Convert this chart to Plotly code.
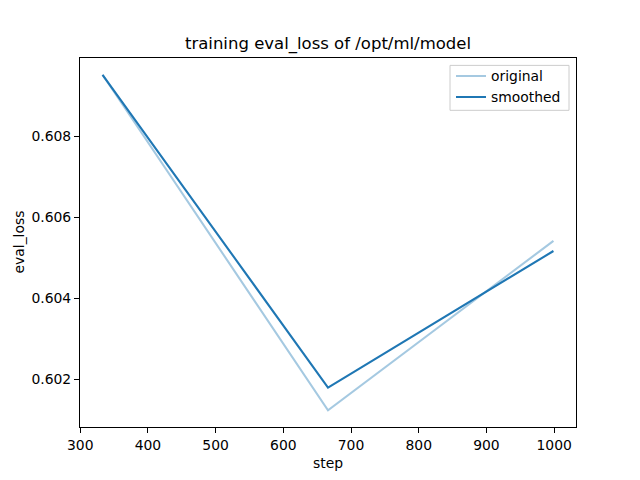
import plotly.graph_objects as go

steps = [333, 666, 999]
original = [0.60952, 0.60124, 0.60542]
smoothed = [0.60952, 0.60180, 0.60517]

x_ticks = [300, 400, 500, 600, 700, 800, 900, 1000]
y_ticks = [0.602, 0.604, 0.606, 0.608]

base = "#1f77b4"
light = "rgba(31,119,180,0.4)"

W, H = 640, 480
L, R, T, B = 80, 64, 57.6, 52.8
PW, PH = W - L - R, H - T - B


def px(x):
    return (x - L) / PW


def py(y):
    return 1 - (y - T) / PH


fig = go.Figure()
fig.add_trace(go.Scatter(x=steps, y=original, mode="lines", name="original",
                         line=dict(color=light, width=2.1)))
fig.add_trace(go.Scatter(x=steps, y=smoothed, mode="lines", name="smoothed",
                         line=dict(color=base, width=2.1)))

span = max(original + smoothed) - min(original + smoothed)
ymin = min(original + smoothed) - 0.05 * span
ymax = max(original + smoothed) + 0.05 * span
xspan = steps[-1] - steps[0]

axis_common = dict(showgrid=False, zeroline=False, showline=True, linecolor="black",
                   linewidth=1, mirror=True, ticks="outside", ticklen=5, tickwidth=1,
                   tickcolor="black", tickfont=dict(size=13.9, color="black"),
                   automargin=False)

fig.update_layout(
    width=W, height=H,
    paper_bgcolor="white", plot_bgcolor="white",
    font=dict(family="DejaVu Sans", color="black"),
    margin=dict(l=L, r=R, t=T, b=B),
    title=dict(text="training eval_loss of /opt/ml/model", x=0.5125, xanchor="center",
               y=1 - 43 / H, yanchor="middle", font=dict(size=16.5),
               automargin=False),
    xaxis=dict(range=[steps[0] - 0.05 * xspan, steps[-1] + 0.05 * xspan],
               tickvals=x_ticks, ticktext=[str(v) for v in x_ticks],
               title=dict(text="step", font=dict(size=13.9), standoff=6), **axis_common),
    yaxis=dict(range=[ymin, ymax], tickvals=y_ticks,
               ticktext=[f"{v:.3f}" for v in y_ticks], **axis_common),
    annotations=[dict(text="eval_loss", xref="paper", yref="paper",
                      x=px(18), y=0.5, xanchor="center", yanchor="middle",
                      textangle=-90, showarrow=False, font=dict(size=13.9))],
    legend=dict(x=px(451), y=py(60), xanchor="left", yanchor="top",
                bgcolor="rgba(0,0,0,0)", borderwidth=0,
                font=dict(size=13.9), tracegroupgap=0, itemwidth=30),
    showlegend=True,
)

# legend frame
fig.add_shape(type="rect", xref="paper", yref="paper",
              x0=px(450), x1=px(569), y0=py(65), y1=py(110),
              line=dict(color="#cccccc", width=1), fillcolor="rgba(255,255,255,0.8)",
              layer="above")

fig.write_html("out.html", config={"displayModeBar": False},
               post_script="document.body.style.margin='0';document.body.style.padding='0';")
